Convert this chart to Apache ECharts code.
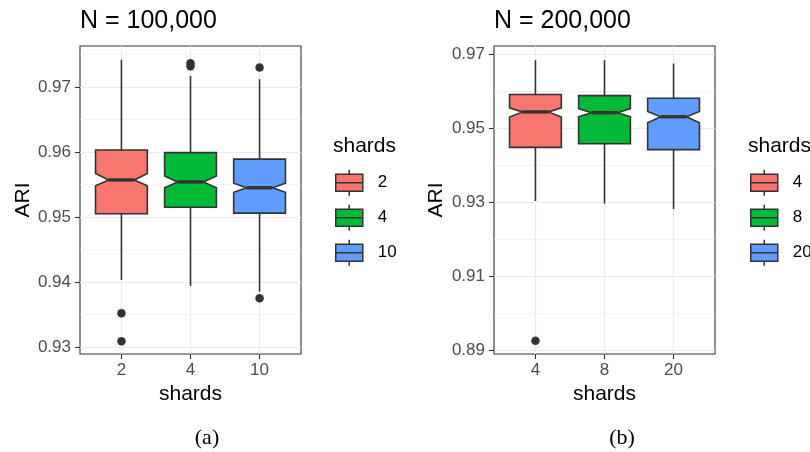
<!DOCTYPE html>
<html><head><meta charset="utf-8">
<script src="https://cdn.jsdelivr.net/npm/echarts@6/dist/echarts.min.js"></script>
<style>html,body{margin:0;padding:0;background:#fff}#c{width:810px;height:452px}</style>
</head><body><div id="c"></div>
<script>
// ---- Panel (a): N = 100,000 ----
const catsA = ['2', '4', '10'];
const whiskLoA = [0.9403, 0.9394, 0.9385];
const q1A      = [0.9505, 0.9515, 0.9506];
const notchLoA = [0.9548, 0.9545, 0.9538];
const medA     = [0.9557, 0.9554, 0.9545];
const notchHiA = [0.9567, 0.9563, 0.9552];
const q3A      = [0.9603, 0.9599, 0.9589];
const whiskHiA = [0.9742, 0.9717, 0.9712];
const outliersA = [[1, 0.9352], [1, 0.9309], [2, 0.97365], [2, 0.9732], [3, 0.9730], [3, 0.9375]];
const yTicksA = [0.93, 0.94, 0.95, 0.96, 0.97];
const yMinorA = [0.935, 0.945, 0.955, 0.965, 0.975];

// ---- Panel (b): N = 200,000 ----
const catsB = ['4', '8', '20'];
const whiskLoB = [0.9303, 0.9296, 0.9281];
const q1B      = [0.9448, 0.9458, 0.9442];
const notchLoB = [0.9530, 0.9531, 0.9515];
const medB     = [0.9544, 0.9542, 0.9531];
const notchHiB = [0.9555, 0.9553, 0.9545];
const q3B      = [0.9591, 0.9588, 0.9581];
const whiskHiB = [0.9684, 0.9684, 0.9675];
const outliersB = [[1, 0.8925]];
const yTicksB = [0.89, 0.91, 0.93, 0.95, 0.97];
const yMinorB = [0.90, 0.92, 0.94, 0.96];

const colors = ['#F8766D', '#00BA38', '#619CFF'];
const FONT = '"Liberation Sans", Arial, Helvetica, sans-serif';
const INK = '#333333';

function renderBox(params, api) {
  const x = api.value(0);
  const wl = api.value(1), q1 = api.value(2), nl = api.value(3), md = api.value(4),
        nh = api.value(5), q3 = api.value(6), wh = api.value(7);
  const half = 0.375, ind = half * 0.5;
  const c = (xx, yy) => api.coord([xx, yy]);
  const color = api.visual('color');
  const poly = [
    c(x - half, q3), c(x - half, nh), c(x - half + ind, md), c(x - half, nl), c(x - half, q1),
    c(x + half, q1), c(x + half, nl), c(x + half - ind, md), c(x + half, nh), c(x + half, q3)
  ];
  const p1 = c(x, wh), p2 = c(x, q3), p3 = c(x, q1), p4 = c(x, wl);
  const m1 = c(x - half + ind, md), m2 = c(x + half - ind, md);
  return {
    type: 'group',
    children: [
      { type: 'line', shape: { x1: p1[0], y1: p1[1], x2: p2[0], y2: p2[1] }, style: { stroke: INK, lineWidth: 1.6 } },
      { type: 'line', shape: { x1: p3[0], y1: p3[1], x2: p4[0], y2: p4[1] }, style: { stroke: INK, lineWidth: 1.6 } },
      { type: 'polygon', shape: { points: poly }, style: { fill: color, stroke: INK, lineWidth: 1.6 } },
      { type: 'line', shape: { x1: m1[0], y1: m1[1], x2: m2[0], y2: m2[1] }, style: { stroke: INK, lineWidth: 3.4 } }
    ]
  };
}

function boxSeries(prefix, cats, wl, q1, nl, md, nh, q3, wh, axisIdx) {
  return cats.map((name, i) => ({
    type: 'custom',
    name: prefix + ':' + name,
    xAxisIndex: axisIdx, yAxisIndex: axisIdx * 2,
    itemStyle: { color: colors[i] },
    renderItem: renderBox,
    encode: { x: 0, y: [1, 2, 3, 4, 5, 6, 7] },
    data: [[i + 1, wl[i], q1[i], nl[i], md[i], nh[i], q3[i], wh[i]]],
    z: 3
  }));
}

const legendIcon = 'path://M0,4.5L27,4.5L27,21.5L0,21.5Z M0,13L27,13 M13.5,0L13.5,4.5 M13.5,21.5L13.5,26';

function xAxisDef(idx, cats) {
  return {
    type: 'value', gridIndex: idx, min: 0.4, max: 3.6,
    axisLine: { show: false },
    axisTick: { show: true, length: 5, lineStyle: { color: INK, width: 1.1 }, customValues: [1, 2, 3] },
    axisLabel: { customValues: [1, 2, 3], formatter: v => cats[Math.round(v) - 1], color: '#4D4D4D',
                 fontSize: 17, fontFamily: FONT, margin: 8 },
    splitLine: { show: true, lineStyle: { color: '#EBEBEB', width: 1.2 } },
    name: 'shards', nameLocation: 'middle', nameGap: 28,
    nameTextStyle: { fontSize: 21, fontFamily: FONT, color: '#000' }
  };
}
function yAxisDef(idx, min, max, ticks, gap) {
  return {
    type: 'value', gridIndex: idx, min: min, max: max, position: 'left',
    axisLine: { show: false },
    axisTick: { show: true, length: 5, lineStyle: { color: INK, width: 1.1 }, customValues: ticks },
    axisLabel: { customValues: ticks, formatter: v => v.toFixed(2), color: '#4D4D4D',
                 fontSize: 17, fontFamily: FONT, margin: 9 },
    splitLine: { show: true, lineStyle: { color: '#EBEBEB', width: 1.2 } },
    name: 'ARI', nameLocation: 'middle', nameGap: gap, nameRotate: 90,
    nameTextStyle: { fontSize: 21, fontFamily: FONT, color: '#000' }
  };
}
function yMinorDef(idx, min, max, vals) {
  return {
    type: 'value', gridIndex: idx, min: min, max: max, position: 'right',
    axisLine: { show: false },
    axisTick: { show: false, customValues: vals },
    axisLabel: { show: false, customValues: vals },
    splitLine: { show: true, lineStyle: { color: '#EBEBEB', width: 0.6 } }
  };
}

const option = {
  animation: false,
  backgroundColor: '#ffffff',
  title: [
    { text: 'N = 100,000', left: 80, top: 9, padding: 0, textStyle: { fontSize: 25, fontWeight: 'normal', fontFamily: FONT, color: '#000' } },
    { text: 'N = 200,000', left: 494, top: 9, padding: 0, textStyle: { fontSize: 25, fontWeight: 'normal', fontFamily: FONT, color: '#000' } },
    { text: 'shards', left: 333, top: 136, padding: 0, textStyle: { fontSize: 21, fontWeight: 'normal', fontFamily: FONT, color: '#000' } },
    { text: 'shards', left: 748, top: 136, padding: 0, textStyle: { fontSize: 21, fontWeight: 'normal', fontFamily: FONT, color: '#000' } },
    { text: '(a)', left: 207, textAlign: 'center', top: 427, padding: 0, textStyle: { fontSize: 22, fontWeight: 'normal', fontFamily: '"Liberation Serif", "Times New Roman", serif', color: '#000' } },
    { text: '(b)', left: 622, textAlign: 'center', top: 427, padding: 0, textStyle: { fontSize: 22, fontWeight: 'normal', fontFamily: '"Liberation Serif", "Times New Roman", serif', color: '#000' } }
  ],
  legend: [
    { orient: 'vertical', left: 335, top: 169, padding: 0, itemWidth: 27, itemHeight: 26, itemGap: 7.5,
      data: catsA.map(n => 'a:' + n), icon: legendIcon,
      itemStyle: { borderColor: INK, borderWidth: 1.5 },
      formatter: n => n.split(':')[1], selectedMode: false,
      textStyle: { fontSize: 17, fontFamily: FONT, color: '#000', padding: [0, 0, 0, 10] } },
    { orient: 'vertical', left: 750, top: 169, padding: 0, itemWidth: 27, itemHeight: 26, itemGap: 7.5,
      data: catsB.map(n => 'b:' + n), icon: legendIcon,
      itemStyle: { borderColor: INK, borderWidth: 1.5 },
      formatter: n => n.split(':')[1], selectedMode: false,
      textStyle: { fontSize: 17, fontFamily: FONT, color: '#000', padding: [0, 0, 0, 10] } }
  ],
  grid: [
    { left: 80, top: 46, width: 221, height: 308, show: true, borderColor: INK, borderWidth: 1.1, backgroundColor: '#fff' },
    { left: 494, top: 46, width: 221, height: 308, show: true, borderColor: INK, borderWidth: 1.1, backgroundColor: '#fff' }
  ],
  xAxis: [xAxisDef(0, catsA), xAxisDef(1, catsB)],
  yAxis: [
    yAxisDef(0, 0.92892, 0.97631, yTicksA, 44),
    yMinorDef(0, 0.92892, 0.97631, yMinorA),
    yAxisDef(1, 0.8889, 0.97224, yTicksB, 47),
    yMinorDef(1, 0.8889, 0.97224, yMinorB)
  ],
  series: [
    ...boxSeries('a', catsA, whiskLoA, q1A, notchLoA, medA, notchHiA, q3A, whiskHiA, 0),
    ...boxSeries('b', catsB, whiskLoB, q1B, notchLoB, medB, notchHiB, q3B, whiskHiB, 1),
    { type: 'scatter', xAxisIndex: 0, yAxisIndex: 0, data: outliersA, symbolSize: 8.5, itemStyle: { color: INK, opacity: 1 }, z: 4 },
    { type: 'scatter', xAxisIndex: 1, yAxisIndex: 2, data: outliersB, symbolSize: 8.5, itemStyle: { color: INK, opacity: 1 }, z: 4 }
  ]
};
const chart = echarts.init(document.getElementById('c'), null, { renderer: 'canvas' });
chart.setOption(option);
</script></body></html>
